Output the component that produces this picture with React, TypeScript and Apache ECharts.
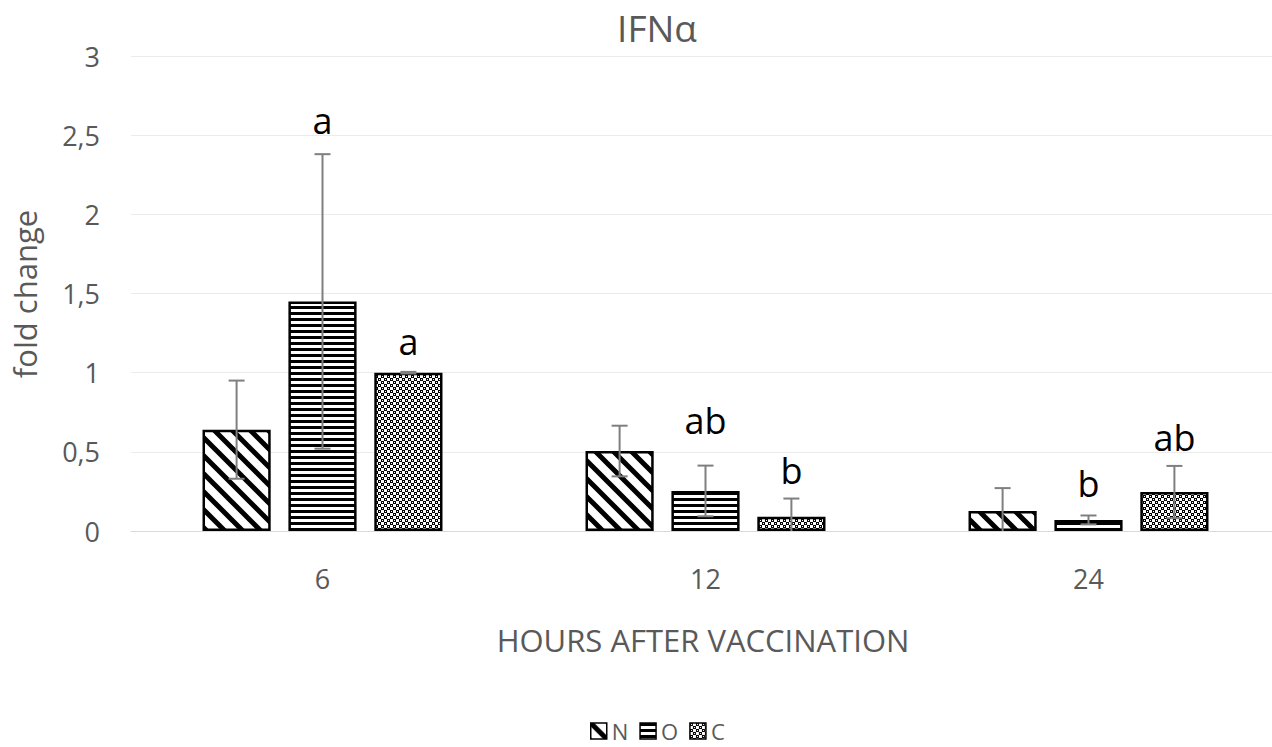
import React, { useEffect, useRef } from 'react';
import * as echarts from 'echarts';

const categories = ['6', '12', '24'];
const seriesNames = ['N', 'O', 'C'];
const meanN = [0.64, 0.505, 0.126];
const meanO = [1.45, 0.253, 0.07];
const meanC = [1.0, 0.09, 0.246];
const errN = [0.31, 0.16, 0.145];
const errO = [0.93, 0.16, 0.028];
const errC = [0.005, 0.115, 0.165];
const lettersN = ['', '', ''];
const lettersO = ['a', 'ab', 'b'];
const lettersC = ['a', 'b', 'ab'];
const letterPosN = [0, 0, 0];
const letterPosO = [2.59, 0.7, 0.3];
const letterPosC = [1.2, 0.385, 0.59];
const yTicks = ['0', '0,5', '1', '1,5', '2', '2,5', '3'];

const TITLE = 'IFNα';
const X_NAME = 'HOURS AFTER VACCINATION';
const Y_NAME = 'fold change';

const BAR_FRAC = 0.178;
const GAP_FRAC = 0.26;
const FONT = "'Open Sans', sans-serif";
const GREY = '#595959';

const svgUrl = (w: number, h: number, body: string) =>
  'data:image/svg+xml;charset=utf-8,' +
  encodeURIComponent(
    `<svg xmlns="http://www.w3.org/2000/svg" width="${w}" height="${h}" shape-rendering="crispEdges">${body}</svg>`
  );

const patternN = {
  image: svgUrl(
    18,
    18,
    '<rect width="18" height="18" fill="white"/><path d="M-5,-5L23,23M-5,13L5,23M13,-5L23,5" stroke="black" stroke-width="5" shape-rendering="auto"/>'
  ),
  repeat: 'repeat',
  imageWidth: 18,
  imageHeight: 18,
};
const patternO = {
  image: svgUrl(6, 6, '<rect width="6" height="6" fill="white"/><rect width="6" height="2.5" fill="black"/>'),
  repeat: 'repeat',
  imageWidth: 6,
  imageHeight: 6,
};
const patternC = {
  image: svgUrl(
    6,
    6,
    '<rect width="6" height="6" fill="white"/><rect x="0" y="0" width="3" height="3" fill="black"/><rect x="3" y="3" width="3" height="3" fill="black"/><rect x="1" y="1" width="1" height="1" fill="white"/><rect x="4" y="4" width="1" height="1" fill="white"/>'
  ),
  repeat: 'repeat',
  imageWidth: 6,
  imageHeight: 6,
};

const groups = [
  { name: seriesNames[0], mean: meanN, err: errN, letters: lettersN, pos: letterPosN, fill: patternN },
  { name: seriesNames[1], mean: meanO, err: errO, letters: lettersO, pos: letterPosO, fill: patternO },
  { name: seriesNames[2], mean: meanC, err: errC, letters: lettersC, pos: letterPosC, fill: patternC },
];

export default function App() {
  const ref = useRef<HTMLDivElement>(null);
  useEffect(() => {
    if (!ref.current) return;
    const chart = echarts.init(ref.current, null, { renderer: 'svg' });

    const barSeries = groups.map((g) => ({
      type: 'bar',
      name: g.name,
      data: g.mean,
      barWidth: (BAR_FRAC * 100).toFixed(2) + '%',
      barGap: (GAP_FRAC * 100).toFixed(0) + '%',
      itemStyle: { color: g.fill as any, borderColor: '#000', borderWidth: 2.5 },
      emphasis: { disabled: true },
    }));

    const errSeries = groups.map((g, gi) => ({
      type: 'custom',
      name: g.name + '-err',
      z: 10,
      silent: true,
      data: categories.map((_, i) => [i, g.mean[i], g.err[i], g.pos[i]]),
      renderItem: (params: any, api: any) => {
        const ci = api.value(0);
        const mean = api.value(1);
        const err = api.value(2);
        const lpos = api.value(3);
        const band = api.size([1, 0])[0];
        const bw = band * BAR_FRAC;
        const offset = (gi - 1) * bw * (1 + GAP_FRAC);
        const lowVal = mean - err;
        const top = api.coord([ci, mean + err]);
        const bot = api.coord([ci, Math.max(0, lowVal)]);
        const x = top[0] + offset;
        const cap = 8;
        const ls = { stroke: '#7f7f7f', lineWidth: 2 };
        const children: any[] = [
          { type: 'line', shape: { x1: x, y1: top[1], x2: x, y2: bot[1] }, style: ls },
          { type: 'line', shape: { x1: x - cap, y1: top[1], x2: x + cap, y2: top[1] }, style: ls },
        ];
        if (lowVal >= 0) {
          children.push({ type: 'line', shape: { x1: x - cap, y1: bot[1], x2: x + cap, y2: bot[1] }, style: ls });
        }
        const letter = g.letters[params.dataIndex];
        if (letter) {
          const lp = api.coord([ci, lpos]);
          children.push({
            type: 'text',
            x: x,
            y: lp[1],
            style: {
              text: letter,
              fill: '#000',
              font: `36px ${FONT}`,
              align: 'center',
              verticalAlign: 'middle',
            },
          });
        }
        return { type: 'group', children };
      },
    }));

    chart.setOption({
      animation: false,
      backgroundColor: '#fff',
      grid: { left: 131, top: 56, width: 1149, height: 475, containLabel: false, outerBoundsMode: 'none' },
      legend: {
        data: seriesNames,
        left: 590,
        top: 720,
        padding: 0,
        itemWidth: 16,
        itemHeight: 16,
        itemGap: 11,
        icon: 'rect',
        selectedMode: false,
        itemStyle: { borderColor: '#000', borderWidth: 1.5 },
        textStyle: { color: GREY, fontSize: 22, fontFamily: FONT },
      },
      xAxis: {
        type: 'category',
        data: categories,
        axisTick: { show: false },
        axisLine: { lineStyle: { color: '#d9d9d9', width: 1 } },
        axisLabel: { color: GREY, fontSize: 27, fontFamily: FONT, margin: 34 },
      },
      yAxis: {
        type: 'value',
        min: 0,
        max: 3,
        interval: 0.5,
        axisLine: { show: false },
        axisTick: { show: false },
        splitLine: { lineStyle: { color: '#ebebeb', width: 1 } },
        axisLabel: {
          color: GREY,
          fontSize: 27,
          fontFamily: FONT,
          margin: 31,
          formatter: (v: number) => yTicks[Math.round(v / 0.5)],
        },
      },
      graphic: [
        {
          type: 'text',
          x: 657,
          y: 27,
          style: { text: TITLE, fill: GREY, font: `37px ${FONT}`, align: 'center', verticalAlign: 'middle' },
        },
        {
          type: 'text',
          x: 703,
          y: 640,
          style: { text: X_NAME, fill: GREY, font: `31px ${FONT}`, align: 'center', verticalAlign: 'middle' },
        },
        {
          type: 'text',
          x: 25,
          y: 294,
          rotation: Math.PI / 2,
          style: { text: Y_NAME, fill: GREY, font: `31px ${FONT}`, align: 'center', verticalAlign: 'middle' },
        },
      ],
      series: [...barSeries, ...errSeries],
    });
    return () => chart.dispose();
  }, []);
  return <div ref={ref} style={{ position: 'fixed', left: 0, top: 0, width: 1272, height: 747 }} />;
}
